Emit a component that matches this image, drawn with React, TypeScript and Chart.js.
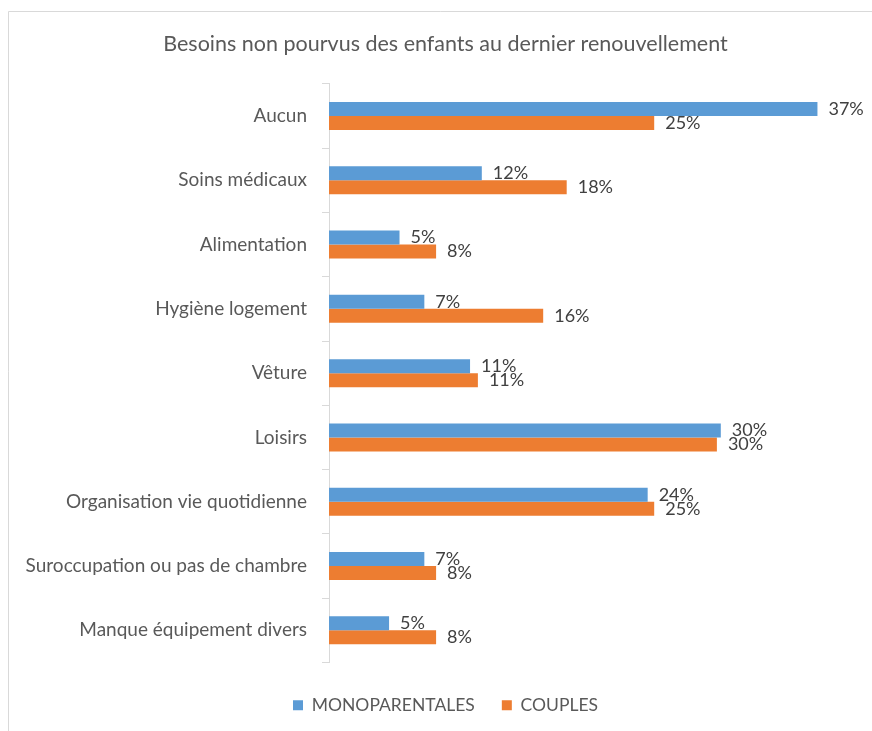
import React, { useEffect, useRef } from "react";
import { Chart, registerables } from "chart.js";

Chart.register(...registerables);

const TITLE = "Besoins non pourvus des enfants au dernier renouvellement";
const categories = [
  "Aucun",
  "Soins médicaux",
  "Alimentation",
  "Hygiène logement",
  "Vêture",
  "Loisirs",
  "Organisation vie quotidienne",
  "Suroccupation ou pas de chambre",
  "Manque équipement divers",
];
const monoparentales = [37.4, 11.7, 5.4, 7.3, 10.8, 30.0, 24.4, 7.3, 4.6];
const couples = [24.9, 18.2, 8.2, 16.4, 11.4, 29.7, 24.9, 8.2, 8.2];
const seriesNames = ["MONOPARENTALES", "COUPLES"];
const FONT = "Lato, 'Open Sans', sans-serif";

const frame = {
  id: "frame",
  beforeDraw(chart: any) {
    const ctx = chart.ctx;
    ctx.save();
    ctx.fillStyle = "#ffffff";
    ctx.fillRect(0, 0, chart.width, chart.height);
    ctx.strokeStyle = "#d9d9d9";
    ctx.lineWidth = 1;
    ctx.beginPath();
    ctx.moveTo(8.5, chart.height);
    ctx.lineTo(8.5, 11.5);
    ctx.lineTo(chart.width, 11.5);
    ctx.stroke();
    ctx.restore();
  },
};

const valueLabels = {
  id: "valueLabels",
  afterDatasetsDraw(chart: any) {
    const ctx = chart.ctx;
    ctx.save();
    ctx.font = `18px ${FONT}`;
    ctx.fillStyle = "#404040";
    ctx.textAlign = "left";
    ctx.textBaseline = "middle";
    chart.data.datasets.forEach((ds: any, i: number) => {
      const meta = chart.getDatasetMeta(i);
      meta.data.forEach((el: any, j: number) => {
        ctx.fillText(Math.round(ds.data[j]) + "%", el.x + 11, el.y);
      });
    });
    ctx.restore();
  },
};

export default function App() {
  const ref = useRef<HTMLCanvasElement>(null);
  useEffect(() => {
    document.body.style.margin = "0";
    const chart = new Chart(ref.current!, {
      type: "bar",
      data: {
        labels: categories,
        datasets: [
          { label: seriesNames[0], data: monoparentales, backgroundColor: "#5b9bd5" },
          { label: seriesNames[1], data: couples, backgroundColor: "#ed7d31" },
        ],
      },
      options: {
        indexAxis: "y",
        animation: false,
        responsive: false,
        maintainAspectRatio: false,
        devicePixelRatio: 1,
        datasets: { bar: { categoryPercentage: 0.436, barPercentage: 1.0 } },
        layout: { padding: { left: 20, right: 1, top: 0, bottom: 7 } },
        scales: {
          x: {
            min: 0,
            max: 41.5,
            ticks: { display: false },
            grid: { display: false },
            border: { display: false },
            afterFit: (s: any) => { s.height = 7; },
          },
          y: {
            grid: { drawOnChartArea: false, drawTicks: true, tickLength: 7, color: "#d9d9d9", offset: true },
            border: { display: true, color: "#d9d9d9" },
            ticks: { padding: 15, color: "#595959", font: { family: FONT, size: 19 } },
            afterFit: (s: any) => { s.width = 309; },
          },
        },
        plugins: {
          title: {
            display: true,
            text: TITLE,
            color: "#595959",
            font: { family: FONT, size: 21.5, weight: "normal" },
            padding: { top: 31, bottom: 27 },
          },
          legend: {
            position: "bottom",
            labels: {
              boxWidth: 10,
              boxHeight: 10,
              padding: 27,
              color: "#595959",
              font: { family: FONT, size: 17.5 },
            },
          },
          tooltip: { enabled: false },
        },
      },
      plugins: [frame, valueLabels],
    });
    return () => chart.destroy();
  }, []);
  return <canvas ref={ref} width={872} height={731} style={{ display: "block" }} />;
}
